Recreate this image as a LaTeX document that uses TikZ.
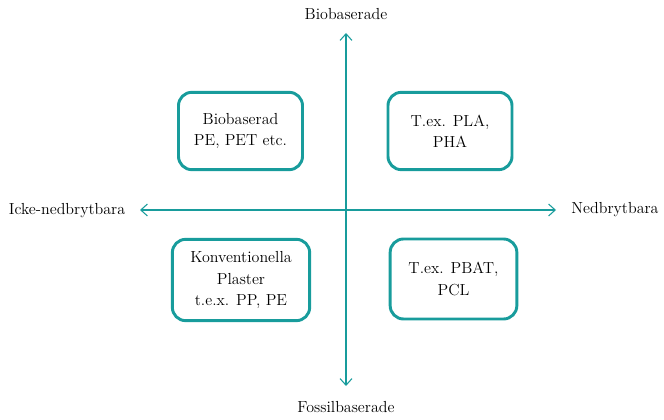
\documentclass[tikz,border=0pt]{standalone}
\usetikzlibrary{arrows.meta}
\definecolor{teal}{RGB}{24,156,156}
\begin{document}
\begin{tikzpicture}[x=0.75pt,y=-0.75pt,
  quad/.style={draw=teal,line width=2.2pt,rounded corners=10pt,align=center,
    font=\fontsize{12}{16}\selectfont,inner sep=0pt},
  axis/.style={draw=teal,line width=0.8pt,
    {Straight Barb[length=5pt,width=9pt]}-{Straight Barb[length=5pt,width=9pt]}},
  axlabel/.style={font=\fontsize{12}{14}\selectfont}]
\useasboundingbox (0,0) rectangle (664,420);
% quadrant boxes
\node[quad,minimum width=93pt,minimum height=58pt] (bio) at (240.5,131) {Biobaserad\\PE, PET etc.};
\node[quad,minimum width=93pt,minimum height=58pt] (pla) at (450,131) {T.ex. PLA,\\PHA};
\node[quad,minimum width=103pt,minimum height=61pt] (konv) at (241,280) {Konventionella\\Plaster\\t.e.x. PP, PE};
\node[quad,minimum width=95pt,minimum height=60pt] (pbat) at (453.5,279) {T.ex. PBAT,\\PCL};
% axis labels
\node[axlabel] (top) at (346,14) {Biobaserade};
\node[axlabel] (bot) at (346,407) {Fossilbaserade};
\node[axlabel] (left) at (67,211) {Icke-nedbrytbara};
\node[axlabel] (right) at (615,210) {Nedbrytbara};
% axes
\coordinate (vt) at (346,33);
\coordinate (vb) at (346,386);
\coordinate (hl) at (140,210);
\coordinate (hr) at (556,210);
\draw[axis] (vb) -- (vt);
\draw[axis] (hl) -- (hr);
\end{tikzpicture}
\end{document}
